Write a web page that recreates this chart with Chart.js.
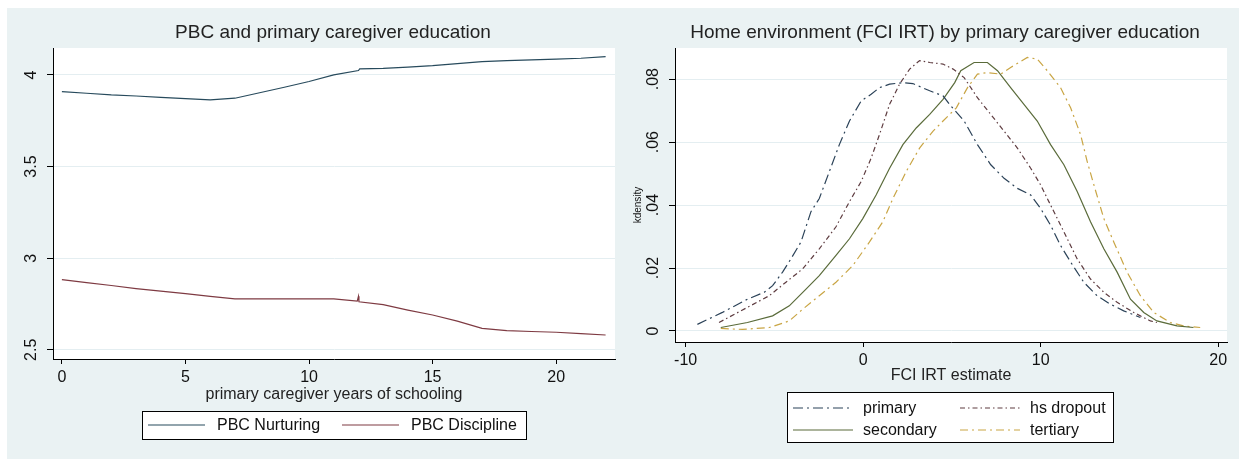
<!DOCTYPE html>
<html>
<head>
  <meta charset="utf-8" />
  <title>PBC and home environment by caregiver education</title>
  <script src="https://cdn.jsdelivr.net/npm/chart.js"></script>
  <style>
    body {
      background: white;
      margin: 0;
      width: 1239px;
      height: 464px;
      position: relative;
      overflow: hidden;
    }
    #bg {
      position: absolute;
      left: 7px;
      top: 8px;
      width: 1232px;
      height: 451px;
      background: #eaf2f3;
    }
    canvas { position: absolute; top: 0; }
    #pbcChart { left: 0; }
    #fciChart { left: 620px; }
  </style>
</head>
<body>
  <div id="bg"></div>
  <canvas id="pbcChart" width="620" height="464"></canvas>
  <canvas id="fciChart" width="619" height="464"></canvas>

  <script>
    // left panel: lowess of PBC scores on caregiver schooling
    const nurturingX = [0, 1, 2, 3, 4, 5, 6, 7, 8, 9, 10, 11, 12, 12.05, 13, 14, 15, 16, 17, 18, 19, 20, 21, 22];
    const nurturingY = [3.909, 3.900, 3.891, 3.885, 3.878, 3.871, 3.864, 3.873, 3.903, 3.933, 3.964, 4.000, 4.024, 4.033, 4.036, 4.043, 4.051, 4.062, 4.073, 4.078, 4.082, 4.086, 4.091, 4.100];
    const disciplineX = [0, 1, 2, 3, 4, 5, 6, 7, 8, 9, 10, 11, 11.95, 12, 12.02, 13, 14, 15, 16, 17, 18, 19, 20, 21, 22];
    const disciplineY = [2.883, 2.867, 2.851, 2.834, 2.820, 2.807, 2.792, 2.778, 2.778, 2.778, 2.778, 2.778, 2.766, 2.792, 2.762, 2.747, 2.717, 2.690, 2.657, 2.617, 2.605, 2.600, 2.596, 2.588, 2.581];
    const pbcXTicks = [0, 5, 10, 15, 20];
    const pbcYTicks = [2.5, 3, 3.5, 4];
    const pbcYLabels = ['2.5', '3', '3.5', '4'];

    // right panel: kernel densities of FCI IRT estimate
    const primaryX = [-9.34, -7.93, -6.52, -5.57, -5.10, -4.54, -4.07, -3.50, -2.94, -2.47, -1.90, -1.34, -0.77, -0.11, 0.45, 0.92, 1.49, 2.24, 2.80, 3.75, 4.50, 4.94, 5.69, 6.44, 7.19, 7.94, 8.69, 9.44, 10.0, 10.56, 11.12, 11.69, 12.43, 13.18, 13.93, 14.68, 15.62];
    const primaryY = [.0021, .0059, .0101, .0123, .0144, .0187, .0229, .0283, .0379, .0421, .0507, .0592, .0667, .0731, .0752, .0773, .0784, .0789, .0786, .0763, .0747, .0715, .0667, .0592, .0528, .0485, .0453, .0432, .0389, .0336, .0272, .0219, .0155, .0112, .0085, .0064, .0043];
    const dropoutX = [-8.12, -6.52, -5.29, -4.35, -3.41, -2.47, -1.53, -0.77, -0.11, 0.45, 0.92, 1.49, 2.05, 2.62, 3.18, 3.75, 4.50, 5.07, 5.69, 6.44, 7.19, 7.94, 8.69, 9.44, 10.0, 10.56, 11.31, 12.06, 12.81, 13.56, 14.31, 15.24, 16.18, 16.55];
    const dropoutY = [.0027, .0075, .0112, .0155, .0197, .0261, .0331, .0411, .0475, .0549, .0624, .0720, .0784, .0832, .0859, .0853, .0848, .0832, .0805, .0741, .0688, .0635, .0581, .0517, .0464, .0400, .0315, .0229, .0165, .0123, .0091, .0059, .0032, .0027];
    const secondaryX = [-8.02, -6.52, -5.10, -4.16, -3.22, -2.47, -1.53, -0.77, -0.02, 0.73, 1.49, 2.24, 2.99, 3.75, 4.50, 5.16, 5.50, 6.25, 7.00, 7.57, 8.31, 9.06, 9.81, 10.56, 11.31, 12.06, 12.81, 13.56, 14.31, 15.06, 15.81, 16.55, 17.68, 18.61];
    const secondaryY = [.0011, .0027, .0048, .0080, .0133, .0176, .0240, .0293, .0357, .0432, .0517, .0592, .0645, .0688, .0736, .0789, .0827, .0853, .0853, .0827, .0773, .0720, .0667, .0592, .0528, .0443, .0347, .0261, .0187, .0101, .0059, .0032, .0016, .0011];
    const tertiaryX = [-8.02, -6.80, -5.29, -4.16, -3.41, -2.47, -1.53, -0.58, 0.36, 1.11, 1.68, 2.43, 3.18, 3.94, 4.50, 5.25, 5.88, 6.44, 7.00, 7.75, 8.31, 9.25, 9.81, 10.37, 11.12, 11.69, 12.25, 12.62, 13.00, 13.56, 14.12, 14.87, 15.62, 16.37, 17.30, 18.05, 18.99];
    const tertiaryY = [.0008, .0005, .0011, .0032, .0069, .0112, .0155, .0208, .0283, .0347, .0421, .0507, .0581, .0635, .0667, .0709, .0773, .0816, .0821, .0816, .0837, .0869, .0864, .0827, .0773, .0709, .0624, .0539, .0464, .0357, .0283, .0187, .0112, .0059, .0027, .0016, .0011];
    const fciXTicks = [-10, 0, 10, 20];
    const fciYTicks = [0, .02, .04, .06, .08];
    const fciYLabels = ['0', '.02', '.04', '.06', '.08'];

    const FONT = '"Liberation Sans", Arial, sans-serif';

    function pts(xs, ys) {
      return xs.map((x, i) => ({ x: x, y: ys[i] }));
    }

    function line(label, xs, ys, color, dash) {
      return {
        label: label,
        data: pts(xs, ys),
        borderColor: color,
        backgroundColor: color,
        borderWidth: 1.2,
        borderDash: dash,
        pointRadius: 0,
        tension: 0,
        fill: false
      };
    }

    // Stata-like decorations: white plot region, title, rotated y labels, boxed legend
    const stataLook = {
      id: 'stataLook',
      beforeDraw(chart) {
        const a = chart.chartArea, ctx = chart.ctx;
        ctx.save();
        ctx.fillStyle = '#ffffff';
        ctx.fillRect(a.left, a.top, a.right - a.left, a.bottom - a.top);
        ctx.restore();
      },
      afterDraw(chart, args, o) {
        const a = chart.chartArea, ctx = chart.ctx, ys = chart.scales.y;
        ctx.save();
        ctx.fillStyle = '#222';
        ctx.textAlign = 'center';
        ctx.textBaseline = 'middle';
        ctx.font = '19px ' + FONT;
        ctx.fillText(o.title, (a.left + a.right) / 2 + o.titleShift, 33);

        ctx.fillStyle = '#111';
        ctx.font = '16px ' + FONT;
        ys.ticks.forEach((t, i) => {
          const y = ys.getPixelForValue(t.value);
          ctx.save();
          ctx.translate(a.left - 21, y);
          ctx.rotate(-Math.PI / 2);
          ctx.fillText(o.yLabels[i], 0, 0);
          ctx.restore();
        });
        if (o.yTitle) {
          ctx.save();
          ctx.font = '10px ' + FONT;
          ctx.translate(a.left - 37, (a.top + a.bottom) / 2 + 10);
          ctx.rotate(-Math.PI / 2);
          ctx.fillText(o.yTitle, 0, 0);
          ctx.restore();
        }

        // legend box
        const L = o.legend;
        ctx.fillStyle = '#ffffff';
        ctx.fillRect(L.x, L.y, L.w, L.h);
        ctx.strokeStyle = '#000';
        ctx.lineWidth = 1;
        ctx.strokeRect(L.x + 0.5, L.y + 0.5, L.w, L.h);
        ctx.font = '16px ' + FONT;
        ctx.textAlign = 'left';
        chart.data.datasets.forEach((ds, i) => {
          const col = i % L.cols, row = Math.floor(i / L.cols);
          const sx = L.x + L.colX[col], sy = L.y + L.rowY[row];
          ctx.save();
          ctx.strokeStyle = ds.borderColor;
          ctx.lineWidth = 1.2;
          ctx.setLineDash(ds.borderDash || []);
          ctx.beginPath();
          ctx.moveTo(sx, sy);
          ctx.lineTo(sx + L.sample, sy);
          ctx.stroke();
          ctx.restore();
          ctx.fillStyle = '#111';
          ctx.fillText(ds.label, sx + L.sample + L.gap, sy + 1);
        });
        ctx.restore();
      }
    };

    function axes(xMin, xMax, xTicks, yMin, yMax, yTicks, yWidth, xHeight, xTitle) {
      return {
        x: {
          type: 'linear',
          min: xMin,
          max: xMax,
          afterBuildTicks: s => { s.ticks = xTicks.map(v => ({ value: v })); },
          afterFit: s => { s.height = xHeight; },
          grid: { drawOnChartArea: false, drawTicks: true, tickLength: 5, tickColor: '#000' },
          border: { display: true, color: '#000', width: 1 },
          ticks: { color: '#111', font: { family: FONT, size: 16 }, padding: 4, maxRotation: 0, autoSkip: false },
          title: { display: true, text: xTitle, color: '#222', font: { family: FONT, size: 16 }, padding: 0 }
        },
        y: {
          type: 'linear',
          min: yMin,
          max: yMax,
          afterBuildTicks: s => { s.ticks = yTicks.map(v => ({ value: v })); },
          afterFit: s => { s.width = yWidth; },
          grid: { color: '#e4eef1', lineWidth: 1, drawTicks: true, tickLength: 6, tickColor: '#000' },
          border: { display: true, color: '#000', width: 1 },
          ticks: { display: false }
        }
      };
    }

    new Chart(document.getElementById('pbcChart').getContext('2d'), {
      type: 'line',
      data: {
        datasets: [
          line('PBC Nurturing', nurturingX, nurturingY, '#274a5c', []),
          line('PBC Discipline', disciplineX, disciplineY, '#7e3a42', [])
        ]
      },
      options: {
        responsive: false,
        animation: false,
        layout: { padding: { left: 0, top: 48, right: 5, bottom: 60 } },
        scales: axes(-0.36, 22.38, pbcXTicks, 2.45, 4.147, pbcYTicks, 53, 45, 'primary caregiver years of schooling'),
        plugins: {
          legend: { display: false },
          title: { display: false },
          tooltip: { enabled: false },
          stataLook: {
            title: 'PBC and primary caregiver education',
            titleShift: -1,
            yLabels: pbcYLabels,
            legend: { x: 142, y: 411, w: 384, h: 28, cols: 2, colX: [6, 200], rowY: [14], sample: 57, gap: 12 }
          }
        }
      },
      plugins: [stataLook]
    });

    new Chart(document.getElementById('fciChart').getContext('2d'), {
      type: 'line',
      data: {
        datasets: [
          line('primary', primaryX, primaryY, '#2b4258', [10, 4, 2, 4]),
          line('hs dropout', dropoutX, dropoutY, '#5e3c40', [5, 3, 1.5, 3]),
          line('secondary', secondaryX, secondaryY, '#5a6b3a', []),
          line('tertiary', tertiaryX, tertiaryY, '#c9a544', [8, 4, 2, 4])
        ]
      },
      options: {
        responsive: false,
        animation: false,
        layout: { padding: { left: 0, top: 48, right: 12, bottom: 79 } },
        scales: axes(-10.6, 20.5, fciXTicks, -0.0035, 0.0899, fciYTicks, 55, 43, 'FCI IRT estimate'),
        plugins: {
          legend: { display: false },
          title: { display: false },
          tooltip: { enabled: false },
          stataLook: {
            title: 'Home environment (FCI IRT) by primary caregiver education',
            titleShift: -6,
            yLabels: fciYLabels,
            yTitle: 'kdensity',
            legend: { x: 167, y: 392, w: 326, h: 50, cols: 2, colX: [6, 173], rowY: [16, 38], sample: 60, gap: 10 }
          }
        }
      },
      plugins: [stataLook]
    });
  </script>
</body>
</html>
